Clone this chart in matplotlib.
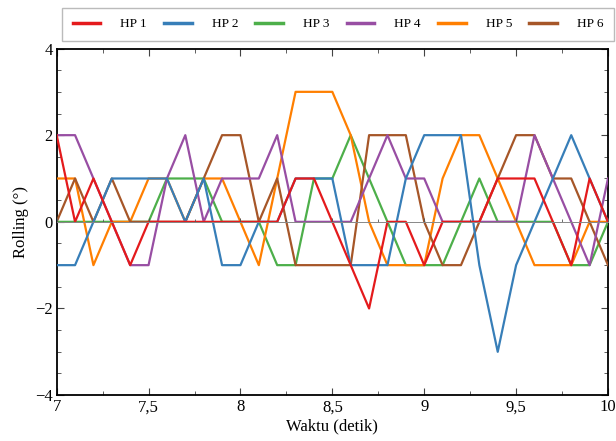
import matplotlib
matplotlib.use("Agg")
import matplotlib.pyplot as plt
from matplotlib.ticker import MultipleLocator, FuncFormatter, NullFormatter

plt.rcParams['font.family'] = ['Liberation Serif', 'DejaVu Serif']

# time samples (s) and roll angle of each hull (deg)
waktu = [7.0, 7.1, 7.2, 7.3, 7.4, 7.5, 7.6, 7.7, 7.8, 7.9,
         8.0, 8.1, 8.2, 8.3, 8.4, 8.5, 8.6, 8.7, 8.8, 8.9,
         9.0, 9.1, 9.2, 9.3, 9.4, 9.5, 9.6, 9.7, 9.8, 9.9, 10.0]
hp1 = [2, 0, 1, 0, -1, 0, 0, 0, 0, 0, 0, 0, 0, 1, 1, 0, -1, -2, 0, 0,
       -1, 0, 0, 0, 1, 1, 1, 0, -1, 1, 0]
hp2 = [-1, -1, 0, 1, 1, 1, 1, 0, 1, -1, -1, 0, 0, 1, 1, 1, -1, -1, -1, 1,
       2, 2, 2, -1, -3, -1, 0, 1, 2, 1, 0]
hp3 = [0, 0, 0, 0, 0, 0, 1, 1, 1, 0, 0, 0, -1, -1, 1, 1, 2, 1, 0, -1,
       -1, -1, 0, 1, 0, 0, 0, 0, -1, -1, 0]
hp4 = [2, 2, 1, 0, -1, -1, 1, 2, 0, 1, 1, 1, 2, 0, 0, 0, 0, 1, 2, 1,
       1, 0, 0, 0, 0, 0, 2, 1, 0, -1, 1]
hp5 = [1, 1, -1, 0, 0, 1, 1, 0, 1, 1, 0, -1, 1, 3, 3, 3, 2, 0, -1, -1,
       -1, 1, 2, 2, 1, 0, -1, -1, -1, 0, 0]
hp6 = [0, 1, 0, 1, 0, 0, 0, 0, 1, 2, 2, 0, 1, -1, -1, -1, -1, 2, 2, 2,
       0, -1, -1, 0, 1, 2, 2, 1, 1, 0, -1]

labels = ['HP 1', 'HP 2', 'HP 3', 'HP 4', 'HP 5', 'HP 6']
series = [hp1, hp2, hp3, hp4, hp5, hp6]
colors = ['#e41a1c', '#377eb8', '#4daf4a', '#984ea3', '#ff7f00', '#a65628']
# stacking order of the curves (higher is drawn later)
zorders = [8, 7, 3, 6, 4, 5]

fig = plt.figure(figsize=(6.16, 4.41), dpi=100)
ax = fig.add_axes([0.092, 0.104, 0.895, 0.786])

handles = []
for y, lab, c, z in zip(series, labels, colors, zorders):
    h, = ax.plot(waktu, y, color=c, lw=1.6, label=lab, zorder=z)
    handles.append(h)

ax.set_xlim(7, 10)
ax.set_ylim(-4, 4)


def koma(v, pos):
    return ('%g' % v).replace('.', ',').replace('-', '\u2212')


ax.xaxis.set_major_locator(MultipleLocator(0.5))
ax.xaxis.set_minor_locator(MultipleLocator(0.25))
ax.yaxis.set_major_locator(MultipleLocator(2))
ax.yaxis.set_minor_locator(MultipleLocator(0.5))
ax.xaxis.set_major_formatter(FuncFormatter(koma))
ax.yaxis.set_major_formatter(FuncFormatter(koma))
ax.tick_params(which='both', direction='in', top=True, right=True,
               labelsize=12, pad=3, color='#444444')
ax.tick_params(which='major', length=5, width=0.8)
ax.tick_params(which='minor', length=3, width=0.6)
for s in ax.spines.values():
    s.set_linewidth(1.3)

# axis line through y = 0 with its own small ticks
nol = ax.secondary_xaxis(0.5)
nol.xaxis.set_major_locator(MultipleLocator(0.5))
nol.xaxis.set_minor_locator(MultipleLocator(0.25))
nol.xaxis.set_major_formatter(NullFormatter())
nol.tick_params(which='major', direction='out', length=3, width=0.7, color='#555555')
nol.tick_params(which='minor', direction='out', length=2, width=0.6, color='#555555')
for s in nol.spines.values():
    s.set_color('#888888')
    s.set_linewidth(0.7)
nol.set_zorder(10)

ax.set_xlabel('Waktu (detik)', fontsize=12, labelpad=2)
ax.set_ylabel('Rolling (°)', fontsize=12, labelpad=4)

leg = fig.legend(handles=handles, loc='lower left', ncol=6, mode='expand',
                 bbox_to_anchor=(62 / 616, 1 - 41 / 441, 552 / 616, 29 / 441),
                 borderaxespad=0, fontsize=9.5, frameon=True, fancybox=False,
                 handlelength=2.1, handletextpad=1.5, borderpad=0.8,
                 columnspacing=1.0)
leg.get_frame().set_edgecolor('#aaaaaa')
leg.get_frame().set_linewidth(1.0)
for ln in leg.get_lines():
    ln.set_linewidth(2.5)

fig.savefig('out.png', dpi=100)
